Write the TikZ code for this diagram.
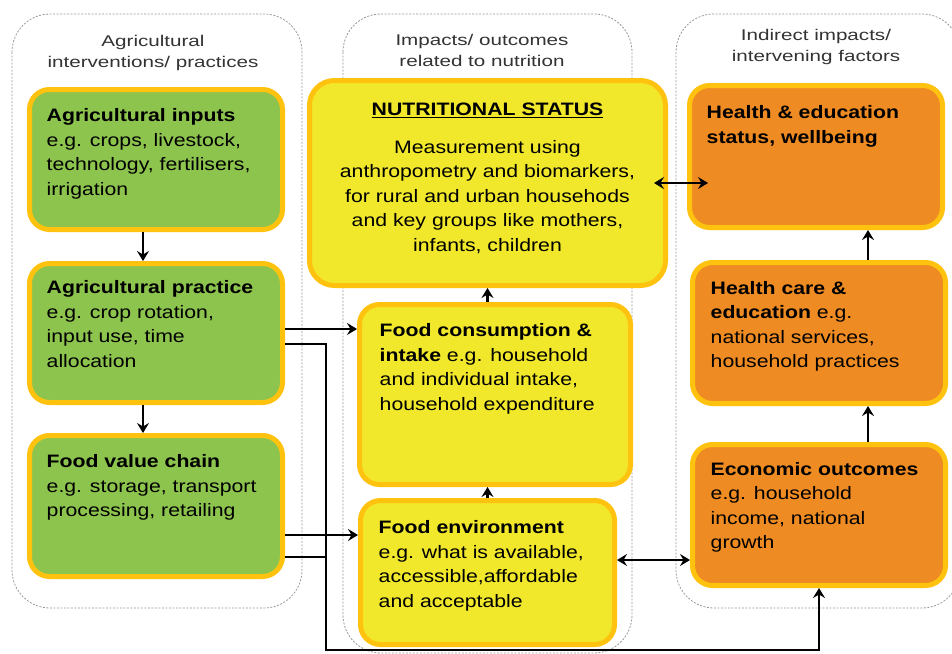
\documentclass[tikz,border=0pt]{standalone}
\usepackage{fontspec}
\setmainfont{Liberation Sans}[FakeStretch=1.18]
\newfontfamily\paneltitlefont{Liberation Sans}[FakeStretch=1.33]
\usetikzlibrary{arrows.meta}

\definecolor{boxedge}{RGB}{255,194,14}
\definecolor{agrigreen}{RGB}{141,196,78}
\definecolor{nutriyellow}{RGB}{241,232,44}
\definecolor{impactorange}{RGB}{238,139,35}

\tikzset{
	panel/.style={draw=black!40, line width=0.8pt, dash pattern=on 2pt off 1.5pt, rounded corners=38pt},
	box/.style={draw=boxedge, line width=5pt, rounded corners=20pt, inner sep=0pt},
	greenbox/.style={box, fill=agrigreen},
	yellowbox/.style={box, fill=nutriyellow},
	orangebox/.style={box, fill=impactorange},
	boxtext/.style={anchor=north west, inner sep=0pt, align=left, font=\fontsize{18}{24.5}\selectfont},
	paneltitle/.style={anchor=north, inner sep=0pt, align=center, text=black!80,
		font=\paneltitlefont\fontsize{15.5}{21}\selectfont},
	link/.style={line width=2.1pt, -{Stealth[length=10pt,width=12pt,inset=3.5pt]}},
	twoway/.style={link, {Stealth[length=10pt,width=12pt,inset=3.5pt]}-{Stealth[length=10pt,width=12pt,inset=3.5pt]}}
}

\begin{document}
\begin{tikzpicture}[x=1pt, y=-1pt]
	\useasboundingbox[fill=white] (0,0) rectangle (952,653);

	% the three columns
	\draw[panel] (12,14) rectangle (302,608);
	\draw[panel] (343,14) rectangle (632,653);
	\draw[panel] (676,14) rectangle (960,608);
	\node[paneltitle] (agrititle) at (153,35) {Agricultural\\interventions/ practices};
	\node[paneltitle] (nutrititle) at (482,34) {Impacts/ outcomes\\related to nutrition};
	\node[paneltitle] (impacttitle) at (816,29) {Indirect impacts/\\intervening factors};

	% boxes
	\node[greenbox, minimum width=253pt, minimum height=140pt] (inputs) at (156,159.5) {};
	\node[greenbox, minimum width=253pt, minimum height=139pt] (practice) at (156,333) {};
	\node[greenbox, minimum width=253pt, minimum height=141pt] (chain) at (156,506) {};
	\node[yellowbox, minimum width=356pt, minimum height=205pt, rounded corners=25pt] (nutr) at (487.5,183) {};
	\node[yellowbox, minimum width=271pt, minimum height=180pt] (consum) at (495,394.5) {};
	\node[yellowbox, minimum width=254pt, minimum height=144pt] (env) at (487.5,572.5) {};
	\node[orangebox, minimum width=253pt, minimum height=142pt] (hstat) at (816,156.5) {};
	\node[orangebox, minimum width=253pt, minimum height=141pt] (hcare) at (819,333) {};
	\node[orangebox, minimum width=253pt, minimum height=141pt] (econ) at (819,515) {};

	% texts
	\node[boxtext] (inputs-text) at ([shift={(19.5pt,-21.5pt)}]inputs.north west)
		{\textbf{Agricultural inputs}\\e.g. crops, livestock,\\technology, fertilisers,\\irrigation};
	\node[boxtext] (practice-text) at ([shift={(19.5pt,-19.5pt)}]practice.north west)
		{\textbf{Agricultural practice}\\e.g. crop rotation,\\input use, time\\allocation};
	\node[boxtext] (chain-text) at ([shift={(19.5pt,-21.5pt)}]chain.north west)
		{\textbf{Food value chain}\\e.g. storage, transport\\processing, retailing};
	\node[boxtext, anchor=north, align=center] (nutr-text) at ([yshift=-25pt]nutr.north)
		{\underline{\textbf{NUTRITIONAL STATUS}}\\[13pt]Measurement using\\anthropometry and biomarkers,\\
		 for rural and urban househods\\and key groups like mothers,\\infants, children};
	\node[boxtext] (consum-text) at ([shift={(22.5pt,-21.5pt)}]consum.north west)
		{\textbf{Food consumption \&}\\\textbf{intake} e.g. household\\and individual intake,\\household expenditure};
	\node[boxtext] (env-text) at ([shift={(20.5pt,-22.5pt)}]env.north west)
		{\textbf{Food environment}\\e.g. what is available,\\accessible,affordable\\and acceptable};
	\node[boxtext] (hstat-text) at ([shift={(19.5pt,-22.5pt)}]hstat.north west)
		{\textbf{Health \& education}\\\textbf{status, wellbeing}};
	\node[boxtext] (hcare-text) at ([shift={(20.5pt,-21pt)}]hcare.north west)
		{\textbf{Health care \&}\\\textbf{education} e.g.\\national services,\\household practices};
	\node[boxtext] (econ-text) at ([shift={(20.5pt,-20pt)}]econ.north west)
		{\textbf{Economic outcomes}\\e.g. household\\income, national\\growth};

	% arrows
	\draw[link] ([xshift=-13pt]inputs.south) -- ([xshift=-13pt]practice.north);
	\draw[link] ([xshift=-13pt]practice.south) -- ([xshift=-13pt]chain.north);
	\draw[link] (env.north) -- (env.north |- consum.south);
	\draw[link] (env.north |- consum.north) -- (env.north |- nutr.south);
	\draw[link] ([xshift=49pt]econ.north) -- ([xshift=49pt]econ.north |- hcare.south);
	\draw[link] ([xshift=49pt]hcare.north) -- ([xshift=49pt]hcare.north |- hstat.south);
	\draw[twoway, shorten <=-14pt, shorten >=-21pt] (nutr.east) -- (nutr.east -| hstat.west);
	\draw[twoway] ([yshift=12.5pt]env.east) -- ([yshift=12.5pt]env.east -| econ.west);

	% links out of the left column
	\coordinate (loop) at (326,650);
	\draw[link] ([yshift=4pt]practice.east) -- ([yshift=4pt]practice.east -| consum.west);
	\draw[link] ([yshift=-29pt]chain.east) -- ([yshift=-29pt]chain.east -| env.west);
	\draw[line width=2.1pt] ([yshift=-51pt]chain.east) -- ([yshift=-51pt]chain.east -| loop);
	\draw[link] ([yshift=-11pt]practice.east) -| (loop) -| (econ.south);
\end{tikzpicture}
\end{document}
